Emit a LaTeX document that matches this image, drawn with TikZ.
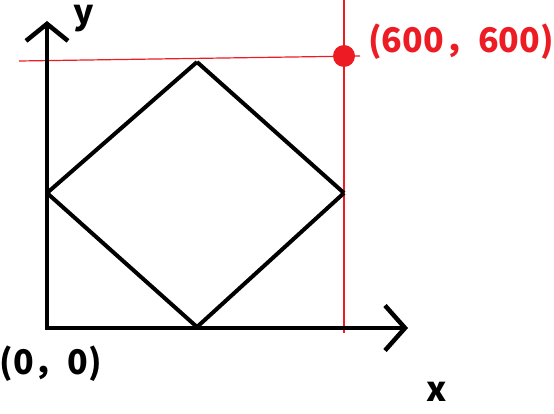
\documentclass[tikz,border=0pt]{standalone}
\usepackage{fontspec}
\usepackage{xcolor}
\usetikzlibrary{arrows.meta}
\newfontfamily\cjk{Noto Sans CJK SC}
\definecolor{paintred}{RGB}{237,28,36}

\begin{document}
\begin{tikzpicture}
  [x=1pt,y=-1pt,
   axis/.style={line width=4.5pt,line join=miter,
     {Straight Barb[length=17pt,width=42pt]}-{Straight Barb[length=20pt,width=45pt]}},
   edge/.style={line width=4pt,line join=round},
   guide/.style={paintred,line width=1.2pt},
   label/.style={inner sep=0pt,font=\cjk\bfseries\fontsize{34}{36}\selectfont}]
  \useasboundingbox (0,0) rectangle (554,414);

  % guide lines to the corner point
  \coordinate (hl) at (19,61);
  \coordinate (hr) at (360,56);
  \coordinate (vt) at (344,0);
  \coordinate (vb) at (344,333);
  \draw[guide] (hl) -- (hr);
  \draw[guide] (vt) -- (vb);
  \node[circle,fill=paintred,inner sep=0pt,minimum size=22pt] (p) at (344,56) {};

  % axes
  \coordinate (O) at (47,328);
  \coordinate (ytip) at (47,21);
  \coordinate (xtip) at (408,328);
  \draw[axis] (ytip) -- (O) -- (xtip);

  % square turned on its corner
  \coordinate (w) at (47,193);
  \coordinate (n) at (197,62);
  \coordinate (e) at (344,193);
  \coordinate (s) at (197,327);
  \foreach \from/\to in {w/n,n/e,e/s,s/w}
    \draw[edge] (\from) -- (\to);

  \node[label] (ylabel) at (84,19) {y};
  \node[label] (xlabel) at (437,392) {x};
  \node[label] (origin) at (51,364) {(0，0)};
  \node[label,text=paintred] (plabel) at (461,42) {(600，600)};
\end{tikzpicture}
\end{document}
